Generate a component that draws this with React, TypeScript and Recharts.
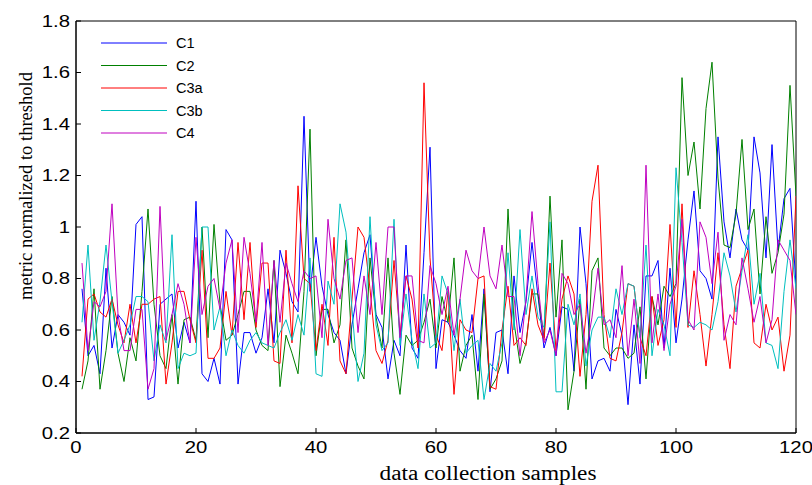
import React from 'react';
import { LineChart, Line, XAxis, YAxis, Legend, ReferenceArea } from 'recharts';

const samples: number[] = Array.from({ length: 120 }, (_, i) => i + 1);

const c1 = [0.76,0.50,0.54,0.43,0.84,0.53,0.66,0.63,0.58,1.01,
 1.04,0.33,0.34,0.70,0.72,0.74,0.53,0.63,0.55,1.10,
 0.43,0.40,0.49,0.39,0.99,0.95,0.39,0.59,0.59,0.51,
 0.57,0.76,0.55,0.91,0.82,0.71,0.67,1.43,0.75,0.96,
 0.77,0.66,0.59,0.56,0.43,0.62,0.76,0.90,0.97,0.66,
 0.61,0.41,0.56,0.50,0.93,0.53,0.49,0.90,1.31,0.45,
 0.64,0.63,0.58,0.52,0.49,0.66,0.44,0.76,0.36,0.59,
 0.60,0.43,0.81,0.59,0.71,0.94,0.73,0.53,0.61,0.50,
 0.69,0.68,0.44,1.00,0.78,0.41,0.48,0.49,0.44,0.68,
 0.58,0.31,0.62,0.39,0.81,0.81,0.87,0.53,0.84,0.55,
 0.72,0.95,1.14,0.83,0.80,0.72,1.35,1.02,0.88,1.07,
 0.95,0.91,1.35,1.21,0.88,1.32,0.91,1.11,1.15,0.77];

const c2 = [0.37,0.48,0.76,0.37,0.52,0.73,0.51,0.40,0.57,0.48,
 0.75,1.07,0.70,0.50,0.45,0.66,0.39,0.64,0.65,0.56,
 1.00,0.57,1.01,0.70,0.56,0.58,0.66,0.75,0.75,0.60,
 0.54,0.52,0.87,0.38,0.58,0.51,0.43,0.75,1.38,0.50,
 0.68,0.68,0.55,0.62,0.95,0.53,0.46,0.41,0.88,0.65,
 0.53,0.88,0.51,0.35,0.58,0.54,0.56,0.63,0.72,0.53,
 0.73,0.63,0.88,0.44,0.54,0.58,0.33,0.74,0.37,0.41,
 0.48,1.07,0.63,0.47,0.55,0.74,0.74,0.57,1.12,0.65,
 0.95,0.29,0.44,0.72,0.37,0.83,0.88,0.53,0.50,0.53,
 0.53,0.49,0.51,0.69,0.41,0.73,0.62,0.77,0.73,0.78,
 1.58,1.20,1.33,1.07,1.46,1.64,1.19,0.93,0.92,1.05,
 1.34,0.99,1.07,0.74,1.04,0.82,0.90,1.05,1.55,1.12];

const c3a = [0.42,0.72,0.74,0.67,0.65,0.72,0.62,0.55,0.70,0.55,
 0.70,0.70,0.72,0.73,0.39,0.55,0.75,0.75,0.64,0.55,
 0.91,0.49,0.49,0.53,0.75,0.58,0.94,0.64,0.94,0.61,
 0.86,0.86,0.48,0.47,0.91,0.55,1.16,0.80,0.78,0.52,
 0.70,0.54,0.96,0.48,0.43,0.72,1.00,0.96,0.76,0.52,
 0.47,0.56,0.87,0.58,0.81,0.72,0.53,1.56,0.88,0.58,
 0.52,0.75,0.35,0.64,0.60,0.59,0.80,0.81,0.38,0.37,
 0.60,0.77,0.54,0.57,0.54,0.76,0.62,0.56,0.86,0.52,
 0.72,0.81,0.74,0.42,0.66,1.10,1.24,0.66,0.49,0.48,
 0.59,0.78,0.77,0.57,0.50,0.73,0.54,0.64,1.01,0.61,
 1.09,0.61,0.83,0.66,0.46,0.66,0.90,0.62,0.45,0.77,
 0.84,0.91,0.55,0.53,0.70,0.60,0.65,0.44,0.58,1.12];

const c3b = [0.63,0.93,0.56,0.71,0.93,0.71,0.51,0.56,0.62,0.73,
 0.73,0.71,0.48,0.62,0.55,0.97,0.45,0.51,0.50,0.51,
 1.00,1.00,0.60,0.69,0.50,0.60,0.54,0.51,0.56,0.59,
 0.55,0.54,0.53,0.59,0.64,0.56,0.66,0.58,0.88,0.43,
 0.42,0.79,0.70,1.09,0.98,0.68,0.40,0.51,1.04,0.62,
 0.52,0.55,1.03,0.54,0.74,0.56,0.45,0.74,0.53,0.55,
 0.81,0.74,0.52,0.72,0.51,0.54,0.56,0.33,0.47,0.44,
 0.55,0.90,0.60,0.99,0.66,0.81,0.65,0.61,1.02,0.36,
 0.36,0.70,0.62,0.74,0.46,0.60,0.65,0.65,0.57,0.76,
 0.66,0.78,0.77,0.57,0.93,0.50,0.68,0.62,0.50,1.23,
 0.94,0.62,0.61,0.63,0.62,0.60,0.71,0.90,0.81,0.67,
 0.83,0.97,0.70,0.82,0.55,0.54,0.45,0.75,0.95,0.76];

const c4 = [0.86,0.52,0.71,0.69,0.75,1.09,0.66,0.52,0.52,0.68,
 0.68,0.37,0.45,1.08,0.56,0.66,0.78,0.70,0.55,0.96,
 0.66,0.77,0.80,0.68,0.86,0.95,0.59,0.96,0.82,0.63,
 0.94,0.54,0.87,0.63,0.86,0.78,0.71,0.83,0.80,0.81,
 0.57,1.03,0.80,0.72,0.87,0.88,0.59,0.81,0.66,0.94,
 0.66,1.00,1.00,0.57,0.81,0.81,0.56,0.55,0.85,0.78,
 0.66,0.77,0.58,0.72,0.91,0.83,0.80,1.00,0.81,0.76,
 0.93,0.73,0.73,0.50,0.72,1.06,0.78,0.55,0.60,0.50,
 0.82,0.78,0.66,0.70,0.51,0.65,0.84,0.62,0.64,0.57,
 0.85,0.50,0.72,0.47,1.24,0.55,0.74,0.52,0.70,0.77,
 1.03,0.64,0.60,1.02,0.96,0.78,0.98,0.56,0.66,0.62,
 0.88,0.76,0.63,0.73,0.55,0.64,0.95,0.91,0.87,0.66];

const xTicks = [0, 20, 40, 60, 80, 100, 120];
const yTicks = [0.2, 0.4, 0.6, 0.8, 1.0, 1.2, 1.4, 1.6, 1.8];
const seriesNames = ['C1', 'C2', 'C3a', 'C3b', 'C4'];
const seriesColors = ['#0000ff', '#008000', '#ff0000', '#00bfbf', '#bf00bf'];
const seriesValues = [c1, c2, c3a, c3b, c4];

const data = samples.map((s, i) => {
  const row: Record<string, number> = { x: s };
  seriesNames.forEach((n, k) => {
    row[n] = seriesValues[k][i];
  });
  return row;
});

const SANS = 'Liberation Sans, Arial, Helvetica, sans-serif';
const SERIF = 'Liberation Serif, Times New Roman, serif';
const TICK_FS = 16;
const STRETCH = 1.27;
const TL = 5;

const fmtY = (v: number) => String(Number(Number(v).toFixed(1)));

const BottomTick = (p: any) => {
  const { x, y, payload } = p;
  return (
    <g>
      <line x1={x} x2={x} y1={y} y2={y - TL} stroke="#000" strokeWidth={1} />
      <text
        transform={`translate(${x},${y + 20}) scale(${STRETCH},1)`}
        textAnchor="middle"
        fontFamily={SANS}
        fontSize={TICK_FS}
        fill="#000"
      >
        {String(payload.value)}
      </text>
    </g>
  );
};

const TopTick = (p: any) => {
  const { x, y } = p;
  return <line x1={x} x2={x} y1={y} y2={y + TL} stroke="#000" strokeWidth={1} />;
};

const LeftTick = (p: any) => {
  const { x, y, payload } = p;
  return (
    <g>
      <line x1={x} x2={x + TL} y1={y} y2={y} stroke="#000" strokeWidth={1} />
      <text
        transform={`translate(${x - 6},${y + 5.7}) scale(${STRETCH},1)`}
        textAnchor="end"
        fontFamily={SANS}
        fontSize={TICK_FS}
        fill="#000"
      >
        {fmtY(payload.value)}
      </text>
    </g>
  );
};

const RightTick = (p: any) => {
  const { x, y } = p;
  return <line x1={x} x2={x - TL} y1={y} y2={y} stroke="#000" strokeWidth={1} />;
};

const LegendBox = () => (
  <svg width={140} height={130} style={{ overflow: 'visible' }}>
    {seriesNames.map((n, k) => (
      <g key={n}>
        <line x1={0} x2={66} y1={10 + k * 22.5} y2={10 + k * 22.5} stroke={seriesColors[k]} strokeWidth={1} />
        <text x={75} y={10 + k * 22.5 + 5.3} fontFamily={SANS} fontSize={14.5} fill="#000">
          {n}
        </text>
      </g>
    ))}
  </svg>
);

export default function App() {
  return (
    <div style={{ position: 'absolute', left: 0, top: 0, width: 812, height: 485, background: '#fff' }}>
      <LineChart
        width={812}
        height={485}
        data={data}
        margin={{ top: 21, right: 16, bottom: 0, left: 0 }}
      >
        <XAxis
          dataKey="x"
          type="number"
          domain={[0, 120]}
          ticks={xTicks}
          allowDataOverflow
          height={52}
          tickSize={0}
          tickMargin={0}
          tickLine={false}
          axisLine={{ stroke: '#000', strokeWidth: 1 }}
          tick={BottomTick}
        />
        <XAxis
          xAxisId="top"
          orientation="top"
          dataKey="x"
          type="number"
          domain={[0, 120]}
          ticks={xTicks}
          height={0}
          tickSize={0}
          tickMargin={0}
          tickLine={false}
          axisLine={{ stroke: '#000', strokeWidth: 1 }}
          tick={TopTick}
        />
        <YAxis
          type="number"
          domain={[0.2, 1.8]}
          ticks={yTicks}
          allowDataOverflow
          width={76}
          tickSize={0}
          tickMargin={0}
          tickLine={false}
          axisLine={{ stroke: '#000', strokeWidth: 1 }}
          tick={LeftTick}
        />
        <YAxis
          yAxisId="right"
          orientation="right"
          type="number"
          domain={[0.2, 1.8]}
          ticks={yTicks}
          width={0}
          tickSize={0}
          tickMargin={0}
          tickLine={false}
          axisLine={{ stroke: '#000', strokeWidth: 1 }}
          tick={RightTick}
        />
        <ReferenceArea
          x1={0}
          x2={120}
          y1={0.2}
          y2={1.8}
          fill="none"
          fillOpacity={0}
          stroke="#000"
          strokeWidth={1}
          ifOverflow="visible"
        />
        <Legend
          layout="vertical"
          align="center"
          verticalAlign="middle"
          wrapperStyle={{ left: 101, top: 33, width: 140, height: 130 }}
          content={() => <LegendBox />}
        />
        {seriesNames.map((n, k) => (
          <Line
            key={n}
            dataKey={n}
            stroke={seriesColors[k]}
            strokeWidth={1}
            dot={false}
            activeDot={false}
            isAnimationActive={false}
          />
        ))}
        <text
          x={488}
          y={480}
          textAnchor="middle"
          fontFamily={SERIF}
          fontSize={20}
          textLength={217}
          lengthAdjust="spacingAndGlyphs"
          fill="#000"
        >
          data collection samples
        </text>
        <text
          x={32}
          y={186}
          textAnchor="middle"
          fontFamily={SERIF}
          fontSize={19}
          textLength={228}
          lengthAdjust="spacingAndGlyphs"
          fill="#000"
          transform="rotate(-90 32 186)"
        >
          metric normalized to threshold
        </text>
      </LineChart>
    </div>
  );
}
